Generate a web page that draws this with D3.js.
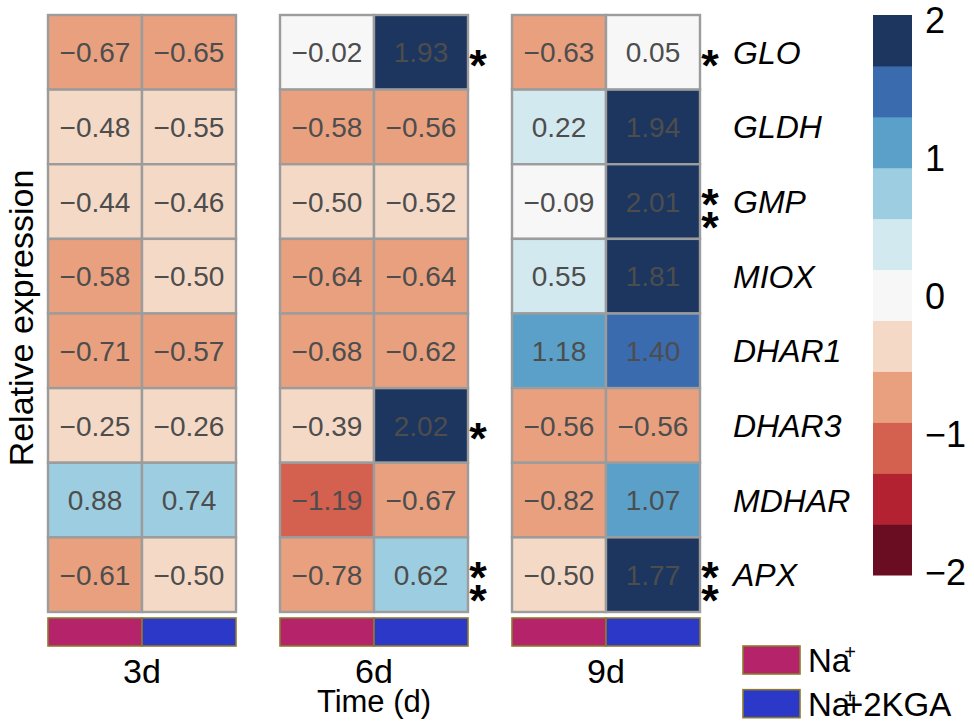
<!DOCTYPE html>
<html>
<head>
<meta charset="utf-8">
<script src="https://cdn.jsdelivr.net/npm/d3@7"></script>
<style>
  html, body { margin: 0; padding: 0; background: #fff; }
  svg text { font-family: "Liberation Sans", Arial, sans-serif; }
</style>
</head>
<body>
<svg id="chart" width="974" height="728"></svg>
<script>
// -- DATA --
const genes = ["GLO", "GLDH", "GMP", "MIOX", "DHAR1", "DHAR3", "MDHAR", "APX"];
const times = ["3d", "6d", "9d"];
const treatments = ["Na+", "Na+2KGA"];

// values per time point, column order = treatments
const na_3d  = [-0.67, -0.48, -0.44, -0.58, -0.71, -0.25, 0.88, -0.61];
const kga_3d = [-0.65, -0.5451, -0.46, -0.50, -0.57, -0.26, 0.74, -0.50];
const na_6d  = [-0.02, -0.58, -0.50, -0.64, -0.68, -0.39, -1.19, -0.78];
const kga_6d = [1.93, -0.56, -0.52, -0.64, -0.62, 2.02, -0.67, 0.62];
const na_9d  = [-0.63, 0.22, -0.09, 0.5451, 1.18, -0.56, -0.82, -0.50];
const kga_9d = [0.05, 1.94, 2.01, 1.81, 1.40, -0.56, 1.07, 1.77];

// number of significance stars after each panel
const stars_3d = [0, 0, 0, 0, 0, 0, 0, 0];
const stars_6d = [1, 0, 0, 0, 0, 1, 0, 2];
const stars_9d = [1, 0, 2, 0, 0, 0, 0, 2];

const legendTicks = [2, 1, 0, -1, -2];

// palette, low -> high
const palette = ["#6A0C22", "#B22231", "#D4604F", "#E8A07F", "#F4D9C6", "#F7F7F7",
                 "#D3E9F0", "#9DCDE0", "#5AA0C8", "#3A6BAE", "#1C365F"];
const annoColors = { "Na+": "#B5236B", "Na+2KGA": "#2C38C8" };

// -- TABLE --
const panels = [
    { time: "3d", cols: [na_3d, kga_3d], stars: stars_3d },
    { time: "6d", cols: [na_6d, kga_6d], stars: stars_6d },
    { time: "9d", cols: [na_9d, kga_9d], stars: stars_9d }
];

const svg = d3.select("#chart");

// -- SCALES --
const xPanel = d3.scaleBand().domain(times).range([48, 700]).paddingInner(44 / 232);
const xCol = d3.scaleBand().domain(treatments).range([0, xPanel.bandwidth()]);
const yRow = d3.scaleBand().domain(genes).range([15, 612]);

const breaks = d3.range(1, 11).map(i => -2 + i * 4 / 11);
const color = d3.scaleThreshold().domain(breaks).range(palette);
const fmt = d3.format(".2f");

// -- HEATMAP --
const numSize = 28;
panels.forEach(p => {
    const g = svg.append("g").attr("transform", `translate(${xPanel(p.time)},0)`);
    const cells = [];
    p.cols.forEach((vals, ci) => {
        vals.forEach((v, ri) => cells.push({ t: treatments[ci], gene: genes[ri], v: v }));
    });

    g.selectAll("rect.cell")
        .data(cells)
        .enter().append("rect")
        .attr("class", "cell")
        .attr("x", d => xCol(d.t))
        .attr("y", d => yRow(d.gene))
        .attr("width", xCol.bandwidth())
        .attr("height", yRow.bandwidth())
        .attr("fill", d => color(d.v))
        .attr("stroke", "#9C9C9C")
        .attr("stroke-width", 2.4);

    g.selectAll("text.num")
        .data(cells)
        .enter().append("text")
        .attr("class", "num")
        .attr("x", d => xCol(d.t) + xCol.bandwidth() / 2)
        .attr("y", d => yRow(d.gene) + yRow.bandwidth() / 2 + numSize * 0.36)
        .attr("text-anchor", "middle")
        .attr("font-size", numSize)
        .attr("fill", "#4D4D4D")
        .text(d => fmt(d.v));

    // annotation bar
    g.selectAll("rect.anno")
        .data(treatments)
        .enter().append("rect")
        .attr("class", "anno")
        .attr("x", d => xCol(d))
        .attr("y", 618)
        .attr("width", xCol.bandwidth())
        .attr("height", 28)
        .attr("fill", d => annoColors[d])
        .attr("stroke", "#8C7A2E")
        .attr("stroke-width", 1.6);

    // stars
    const starX = xPanel.bandwidth() + 10;
    p.stars.forEach((n, ri) => {
        const cy = yRow(genes[ri]) + yRow.bandwidth() / 2;
        const offs = n === 1 ? [3.5] : n === 2 ? [-7, 16.5] : [];
        offs.forEach(o => {
            g.append("text")
                .attr("x", starX)
                .attr("y", cy + o + 25)
                .attr("text-anchor", "middle")
                .attr("font-size", 45)
                .attr("font-weight", "bold")
                .attr("fill", "#000")
                .text("*");
        });
    });

    // time label
    g.append("text")
        .attr("x", xPanel.bandwidth() / 2)
        .attr("y", 683)
        .attr("text-anchor", "middle")
        .attr("font-size", 34)
        .attr("fill", "#000")
        .text(p.time);
});

// -- GENE LABELS --
svg.selectAll("text.gene")
    .data(genes)
    .enter().append("text")
    .attr("class", "gene")
    .attr("x", 733)
    .attr("y", d => yRow(d) + yRow.bandwidth() / 2 + 32 * 0.36)
    .attr("font-size", 32)
    .attr("font-style", "italic")
    .attr("fill", "#000")
    .text(d => d);

// -- AXIS TITLES --
svg.append("text")
    .attr("transform", "translate(33,318) rotate(-90)")
    .attr("text-anchor", "middle")
    .attr("font-size", 34)
    .attr("fill", "#000")
    .text("Relative expression");

svg.append("text")
    .attr("x", xPanel("6d") + xPanel.bandwidth() / 2)
    .attr("y", 712)
    .attr("text-anchor", "middle")
    .attr("font-size", 31)
    .attr("fill", "#000")
    .text("Time (d)");

// -- COLOR LEGEND --
const yLeg = d3.scaleBand().domain(d3.range(palette.length).reverse()).range([15, 575]);
svg.append("g")
    .selectAll("rect")
    .data(d3.range(palette.length))
    .enter().append("rect")
    .attr("x", 873)
    .attr("y", d => yLeg(d))
    .attr("width", 39)
    .attr("height", yLeg.bandwidth() + 0.5)
    .attr("fill", d => palette[d]);

const yTick = d3.scaleLinear().domain([-2, 2]).range([585, 33]);
svg.append("g")
    .selectAll("text")
    .data(legendTicks)
    .enter().append("text")
    .attr("x", 925)
    .attr("y", d => yTick(d))
    .attr("font-size", 36)
    .attr("fill", "#000")
    .text(d => d3.format("d")(d));

// -- ANNOTATION LEGEND --
const yAnno = d3.scaleBand().domain(treatments).range([643, 719]).paddingInner(0.26);
const aLeg = svg.append("g");
aLeg.selectAll("rect")
    .data(treatments)
    .enter().append("rect")
    .attr("x", 743)
    .attr("y", d => yAnno(d) + 3)
    .attr("width", 57)
    .attr("height", 28)
    .attr("fill", d => annoColors[d])
    .attr("stroke", "#8C7A2E")
    .attr("stroke-width", 1.6);

aLeg.selectAll("text")
    .data(treatments)
    .enter().append("text")
    .attr("x", 808)
    .attr("y", d => yAnno(d) + 29)
    .attr("font-size", 33)
    .attr("fill", "#000")
    .each(function (d) {
        const t = d3.select(this);
        t.append("tspan").text("Na");
        t.append("tspan").attr("font-size", 20).attr("dx", -6).attr("dy", -13).text("+");
        if (d === "Na+2KGA") {
            t.append("tspan").attr("dx", -12).attr("dy", 13).text("+2KGA");
        }
    });
</script>
</body>
</html>
